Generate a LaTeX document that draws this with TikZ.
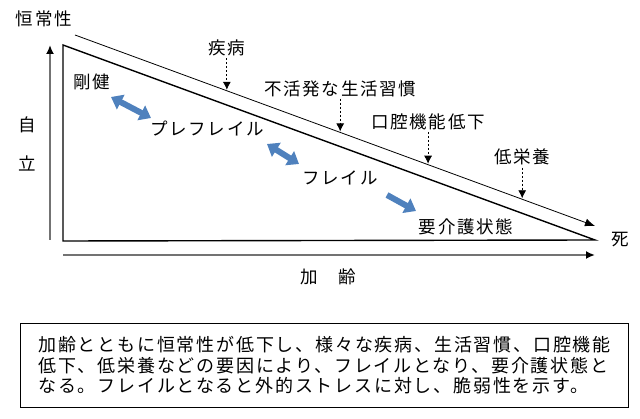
\documentclass[tikz,border=0pt]{standalone}
\usepackage{fontspec}
\setmainfont{Noto Sans CJK JP}[LetterSpace=10]
\usetikzlibrary{positioning,calc,arrows.meta}
\definecolor{stageblue}{RGB}{79,129,189}
\tikzset{
  every node/.style={
    align=center,
    inner sep=2pt,
    font=\fontsize{17.5}{20}\selectfont,
  },
  -latex,
  frame/.style={line width=1.4pt, -},
  axis/.style={line width=2pt, draw=black!55, -{Latex[length=9pt,width=8pt,color=black]}},
  homeoline/.style={line width=0.8pt, -{Latex[length=10pt,width=8pt]}},
  cause/.style={dash pattern=on 2pt off 2pt, line width=0.7pt, shorten >=1pt, -{Latex[length=8pt,width=8pt]}},
  stagemove/.style={line width=6pt, draw=stageblue, line cap=butt},
  stagetip/.tip={Triangle[length=11pt,width=16pt,color=stageblue]},
}

\begin{document}
\begin{tikzpicture}[x=1pt,y=-1pt]
    \useasboundingbox (0,0) rectangle (640,419);
    \coordinate (tl) at (63,45);
    \coordinate (bl) at (63,241);
    \coordinate (dr) at (595,240);
    \coordinate (h0) at (75,35);
    \coordinate (h1) at (595,226);
    \coordinate (v0) at (50,240);
    \coordinate (v1) at (50,45);
    \coordinate (a0) at (63,255);
    \coordinate (a1) at (595,255);
    \draw[frame] (tl) -- (dr) -- (bl) -- cycle;
    \draw[homeoline] (h0) -- (h1);
    \draw[axis] (v0) -- (v1);
    \draw[axis] (a0) -- (a1);
    \node (homeo) at (44,19) {恒常性};
    \node (ji) at (27,125) {自};
    \node (ritsu) at (27,163) {立};
    \node (aging) at (328,277) {加　齢};
    \node (death) at (620,240) {死};
    \coordinate (c1) at ($(h0)!0.292!(h1)$);
    \coordinate (c2) at ($(h0)!0.510!(h1)$);
    \coordinate (c3) at ($(h0)!0.679!(h1)$);
    \coordinate (c4) at ($(h0)!0.860!(h1)$);
    \node (disease) at ($(c1)+(0,-43)$) {疾病};
    \node (lifestyle) at ($(c2)+(0,-44)$) {不活発な生活習慣};
    \node (oral) at ($(c3)+(0,-43)$) {口腔機能低下};
    \node (nutrition) at ($(c4)+(0,-42)$) {低栄養};
    \draw[cause] (disease) -- (c1);
    \draw[cause] (lifestyle) -- (c2);
    \draw[cause] (oral) -- (c3);
    \draw[cause] (nutrition) -- (c4);
    \node (robust) at (92,82) {剛健};
    \node (prefrail) at (207,129) {プレフレイル};
    \node (frail) at (340,178) {フレイル};
    \node (care) at (466,227) {要介護状態};
    \coordinate (s1a) at (111,97);
    \coordinate (s1b) at (151,118);
    \coordinate (s2a) at (267,144);
    \coordinate (s2b) at (299,164);
    \coordinate (s3a) at (387,195);
    \coordinate (s3b) at (416,211);
    \draw[stagemove, stagetip-stagetip] (s1a) -- (s1b);
    \draw[stagemove, stagetip-stagetip] (s2a) -- (s2b);
    \draw[stagemove, -stagetip] (s3a) -- (s3b);
    \node[draw, line width=1pt, anchor=north west, minimum width=608pt, minimum height=84pt,
      align=left, inner xsep=17pt, font=\fontsize{18}{20.5}\selectfont] (note) at (20,323)
      {加齢とともに恒常性が低下し、様々な疾病、生活習慣、口腔機能\\
       低下、低栄養などの要因により、フレイルとなり、要介護状態と\\
       なる。フレイルとなると外的ストレスに対し、脆弱性を示す。};
\end{tikzpicture}
\end{document}
